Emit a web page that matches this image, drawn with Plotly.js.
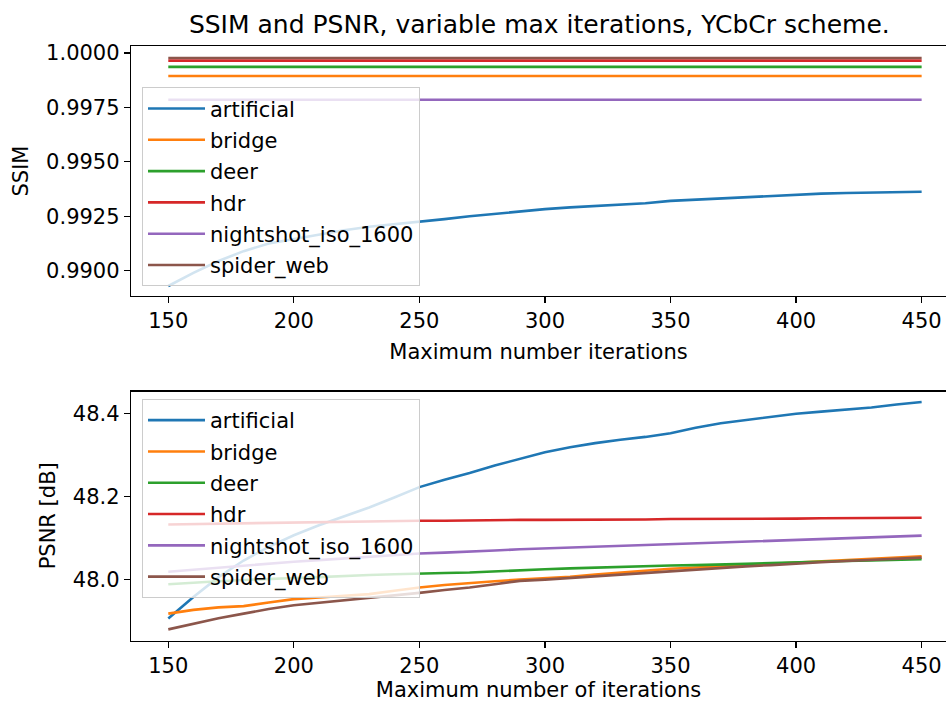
<!DOCTYPE html>
<html>
<head>
<meta charset="utf-8">
<script src="https://cdn.plot.ly/plotly-3.0.1.min.js"></script>
<style>
  html, body { margin: 0; padding: 0; background: #ffffff; }
  #chart { width: 946px; height: 702px; }
</style>
</head>
<body>
<div id="chart"></div>
<script>
// Maximum number of iterations (x values shared by both panels)
const iterations = [150, 160, 170, 180, 190, 200, 210, 220, 230, 240, 250,
  260, 270, 280, 290, 300, 310, 320, 330, 340, 350,
  360, 370, 380, 390, 400, 410, 420, 430, 440, 450];

const imageNames = ["artificial", "bridge", "deer", "hdr", "nightshot_iso_1600", "spider_web"];
const seriesColors = ["#1f77b4", "#ff7f0e", "#2ca02c", "#d62728", "#9467bd", "#8c564b"];

// SSIM per image
const ssimArtificial = [0.98930, 0.98990, 0.99045, 0.99090, 0.99125, 0.99146, 0.99166, 0.99186, 0.99202, 0.99213, 0.99224,
  0.99237, 0.99250, 0.99262, 0.99274, 0.99283, 0.99291, 0.99298, 0.99304, 0.99310, 0.99321,
  0.99327, 0.99333, 0.99339, 0.99345, 0.99350, 0.99354, 0.99357, 0.99359, 0.99361, 0.99363];
const ssimBridge = iterations.map(() => 0.99894);
const ssimDeer = iterations.map(() => 0.99936);
const ssimHdr = iterations.map(() => 0.99965);
const ssimNightshot = iterations.map(() => 0.99785);
const ssimSpiderWeb = iterations.map(() => 0.99977);

// PSNR [dB] per image
const psnrArtificial = [47.905, 47.957, 48.005, 48.045, 48.078, 48.106, 48.130, 48.152, 48.173, 48.197, 48.222,
  48.240, 48.256, 48.274, 48.290, 48.306, 48.318, 48.328, 48.336, 48.343, 48.352,
  48.365, 48.376, 48.384, 48.392, 48.399, 48.404, 48.409, 48.414, 48.421, 48.427];
const psnrBridge = [47.917, 47.926, 47.932, 47.935, 47.944, 47.952, 47.956, 47.960, 47.964, 47.972, 47.980,
  47.986, 47.991, 47.995, 47.999, 48.002, 48.006, 48.011, 48.016, 48.021, 48.025,
  48.028, 48.031, 48.034, 48.037, 48.039, 48.042, 48.046, 48.049, 48.052, 48.055];
const psnrDeer = [47.988, 47.992, 47.995, 47.998, 48.001, 48.003, 48.005, 48.008, 48.010, 48.012, 48.014,
  48.015, 48.016, 48.019, 48.022, 48.024, 48.026, 48.028, 48.030, 48.032, 48.033,
  48.034, 48.035, 48.037, 48.039, 48.041, 48.042, 48.044, 48.045, 48.047, 48.048];
const psnrHdr = [48.132, 48.133, 48.134, 48.135, 48.136, 48.137, 48.138, 48.139, 48.140, 48.140, 48.141,
  48.141, 48.142, 48.142, 48.143, 48.143, 48.143, 48.144, 48.144, 48.144, 48.145,
  48.145, 48.145, 48.146, 48.146, 48.146, 48.147, 48.147, 48.147, 48.148, 48.148];
const psnrNightshot = [48.018, 48.023, 48.028, 48.033, 48.038, 48.042, 48.046, 48.050, 48.054, 48.058, 48.062,
  48.064, 48.066, 48.069, 48.072, 48.074, 48.076, 48.078, 48.080, 48.082, 48.084,
  48.086, 48.088, 48.090, 48.092, 48.094, 48.096, 48.098, 48.100, 48.103, 48.105];
const psnrSpiderWeb = [47.879, 47.893, 47.906, 47.917, 47.928, 47.937, 47.943, 47.949, 47.954, 47.960, 47.967,
  47.974, 47.980, 47.988, 47.996, 47.999, 48.003, 48.008, 48.012, 48.016, 48.020,
  48.024, 48.027, 48.031, 48.034, 48.038, 48.041, 48.044, 48.047, 48.050, 48.052];

const ssimSeries = [ssimArtificial, ssimBridge, ssimDeer, ssimHdr, ssimNightshot, ssimSpiderWeb];
const psnrSeries = [psnrArtificial, psnrBridge, psnrDeer, psnrHdr, psnrNightshot, psnrSpiderWeb];

const FONT = "DejaVu Sans, Liberation Sans, sans-serif";
const TEXT_SIZE = 21;
const traces = [];

imageNames.forEach((name, i) => {
  traces.push({
    x: iterations, y: ssimSeries[i], name: name, type: "scatter", mode: "lines",
    line: { color: seriesColors[i], width: 2.6 },
    xaxis: "x", yaxis: "y", legend: "legend", legendgroup: "s" + i
  });
});
imageNames.forEach((name, i) => {
  traces.push({
    x: iterations, y: psnrSeries[i], name: name, type: "scatter", mode: "lines",
    line: { color: seriesColors[i], width: 2.6 },
    xaxis: "x2", yaxis: "y2", legend: "legend2", legendgroup: "p" + i
  });
});

const textFont = { family: FONT, size: TEXT_SIZE, color: "#000000" };

const axisCommon = {
  showgrid: false, zeroline: false, showline: true, linecolor: "#000000", linewidth: 1.2,
  ticks: "outside", ticklen: 6, tickwidth: 1.2, tickcolor: "#000000",
  tickfont: textFont
};

const legendCommon = {
  x: 0.0135, xanchor: "left", yanchor: "top",
  bgcolor: "rgba(255,255,255,0.8)", bordercolor: "#cccccc", borderwidth: 1,
  font: textFont,
  traceorder: "grouped", tracegroupgap: 1, itemwidth: 57
};

// vertical axis titles, placed as rotated labels left of the tick labels
function yTitle(text, yref) {
  return {
    text: text, textangle: -90, showarrow: false,
    xref: "paper", x: 0, xanchor: "center", xshift: -131 + 0, 
    yref: yref + " domain", y: 0.5, yanchor: "middle",
    font: textFont
  };
}
const ssimTitle = yTitle("SSIM", "y");
ssimTitle.xshift = 21.5 - 131;
const psnrTitle = yTitle("PSNR [dB]", "y2");
psnrTitle.xshift = 48 - 131;

const layout = {
  width: 946, height: 702,
  paper_bgcolor: "#ffffff", plot_bgcolor: "#ffffff",
  margin: { l: 131, r: 0, t: 46, b: 61 },
  showlegend: true,
  title: {
    text: "SSIM and PSNR, variable max iterations, YCbCr scheme.",
    font: { family: FONT, size: 25, color: "#000000" },
    x: 0.501, xref: "paper", xanchor: "center",
    y: 0.966, yref: "container", yanchor: "middle"
  },
  xaxis: Object.assign({}, axisCommon, {
    domain: [0, 1], anchor: "y", mirror: true, range: [135.15, 459.7],
    tickvals: [150, 200, 250, 300, 350, 400, 450],
    title: { text: "Maximum number iterations", font: textFont, standoff: 11 }
  }),
  yaxis: Object.assign({}, axisCommon, {
    domain: [0.5798, 1], anchor: "x", range: [0.98884, 1.00032],
    tickvals: [0.99, 0.9925, 0.995, 0.9975, 1.0], tickformat: ".4f"
  }),
  xaxis2: Object.assign({}, axisCommon, {
    domain: [0, 1], anchor: "y2", mirror: true, range: [135.15, 459.7],
    tickvals: [150, 200, 250, 300, 350, 400, 450],
    title: { text: "Maximum number of iterations", font: textFont, standoff: 11 }
  }),
  yaxis2: Object.assign({}, axisCommon, {
    domain: [0, 0.419], anchor: "x2", range: [47.851, 48.452],
    tickvals: [48.0, 48.2, 48.4], tickformat: ".1f"
  }),
  annotations: [ssimTitle, psnrTitle],
  legend: Object.assign({}, legendCommon, { y: 0.9305 }),
  legend2: Object.assign({}, legendCommon, { y: 0.4067 })
};

Plotly.newPlot("chart", traces, layout, { staticPlot: true, displayModeBar: false });
</script>
</body>
</html>
